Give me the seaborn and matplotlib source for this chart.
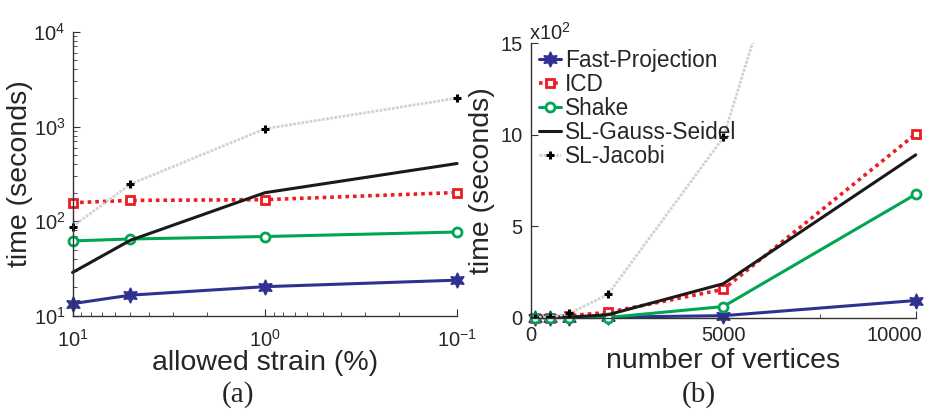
#!/usr/bin/env python3
import numpy as np
import pandas as pd
import matplotlib
matplotlib.use('Agg')
import matplotlib.pyplot as plt
from matplotlib.ticker import MultipleLocator, FixedLocator
import seaborn as sns

# (a) time vs allowed strain (%), log-log, x reversed
strain = [10, 5, 1, 0.1]
strain_fast = [13.5, 16.6, 20.4, 23.9]
strain_icd = [157, 166, 169, 201]
strain_shake = [62, 65, 69, 77]
strain_gs = [28.8, 63, 200, 407]
strain_jacobi = [88, 246, 946, 1995]

# (b) time (x10^2 s) vs number of vertices
vertices = [100, 500, 1000, 2000, 5000, 10000]
vert_fast = [0.0, 0.0, 0.0, 0.02, 0.1, 0.93]
vert_icd = [0.0, 0.0, 0.1, 0.28, 1.54, 10.04]
vert_shake = [0.0, 0.0, 0.0, 0.0, 0.6, 6.74]
vert_gs = [0.0, 0.0, 0.02, 0.15, 1.85, 8.9]
vert_jacobi = [0.0, 0.02, 0.22, 1.26, 9.85, 44.0]

labels = ['Fast-Projection', 'ICD', 'Shake', 'SL-Gauss-Seidel', 'SL-Jacobi']

sns.set_style('ticks')
plt.rcParams['font.family'] = ['Liberation Sans', 'DejaVu Sans']
plt.rcParams['mathtext.fontset'] = 'custom'
plt.rcParams['mathtext.rm'] = 'Liberation Sans'
plt.rcParams['xtick.direction'] = 'in'
plt.rcParams['ytick.direction'] = 'in'

blue, red, green = '#2e3192', '#ed1c24', '#00a651'
styles = [
    dict(color=blue, marker=(6, 1, 0), markersize=11, markeredgecolor=blue,
         markeredgewidth=1, linestyle='-', lw=2.2),
    dict(color=red, marker='s', markersize=5.5, markerfacecolor='white',
         markeredgecolor=red, markeredgewidth=2, linestyle=(0, (1, 1.1)), lw=2.6),
    dict(color=green, marker='o', markersize=6.5, markerfacecolor='white',
         markeredgecolor=green, markeredgewidth=2, linestyle='-', lw=2.2),
    dict(color='#1a1a1a', marker=None, linestyle='-', lw=2.2),
    dict(color='#d2d2d2', marker='+', markersize=6, markeredgecolor='black',
         markeredgewidth=2.2, linestyle=(0, (1, 0.5)), lw=2.0),
]

fig = plt.figure(figsize=(9.25, 4.18), dpi=100)
ax1 = fig.add_axes([0.0784, 0.244, 0.4157, 0.680])
ax2 = fig.add_axes([0.574, 0.2404, 0.416, 0.656])

series_a = [strain_fast, strain_icd, strain_shake, strain_gs, strain_jacobi]
series_b = [vert_fast, vert_icd, vert_shake, vert_gs, vert_jacobi]

for lab, ys, st in zip(labels, series_a, styles):
    sns.lineplot(x=strain, y=ys, ax=ax1, label=lab, sort=False, clip_on=False, **st)
for lab, ys, st in zip(labels, series_b, styles):
    sns.lineplot(x=vertices, y=ys, ax=ax2, label=lab, sort=False,
                 clip_on=(lab == 'SL-Jacobi'), **st)

# panel (a)
ax1.set_xscale('log')
ax1.set_yscale('log')
ax1.set_xlim(10, 0.1)
ax1.set_ylim(10, 1e4)
ax1.set_xlabel('allowed strain (%)', fontsize=20.5, labelpad=0)
ax1.set_ylabel('time (seconds)', fontsize=20.5, labelpad=0)
ax1.tick_params(axis='x', which='major', pad=9)
ax1.tick_params(axis='y', which='major', pad=5)
ax1.get_legend().remove()

# panel (b)
ax2.set_xlim(0, 10000)
ax2.set_ylim(0, 15)
ax2.xaxis.set_minor_locator(MultipleLocator(2500))
ax2.yaxis.set_major_locator(MultipleLocator(5))
ax2.set_xlabel('number of vertices', fontsize=20.5, labelpad=2)
ax2.set_ylabel('time (seconds)', fontsize=20.5, labelpad=4)
ax2.tick_params(axis='x', which='major', pad=6)
ax2.tick_params(axis='y', which='major', pad=6)
ax2.text(-0.005, 1.0, r'x10$^{2}$', transform=ax2.transAxes, fontsize=14.5,
         ha='left', va='bottom')
ax2.legend(loc='upper left', bbox_to_anchor=(-0.015, 1.03), frameon=False,
           fontsize=16.3, handlelength=1.0, handletextpad=0.15,
           labelspacing=0.05, borderaxespad=0.2)

for ax in (ax1, ax2):
    sns.despine(ax=ax)
    for s in ('left', 'bottom'):
        ax.spines[s].set_color('#333333')
        ax.spines[s].set_linewidth(1.0)
    ax.tick_params(which='both', labelsize=14.5, color='#333333')
    ax.tick_params(which='major', length=5)
    ax.tick_params(which='minor', length=3)

ax2.set_xticks([0, 5000, 10000])
ax2.set_xticklabels(['0', '5000', '10000'])
last = ax2.get_xticklabels()[-1]
last.set_horizontalalignment('right')
last.set_transform(last.get_transform() +
                   matplotlib.transforms.ScaledTranslation(0.06, 0, fig.dpi_scale_trans))

fig.text(0.257, 0.04, '(a)', fontsize=21, family='Liberation Serif', ha='center')
fig.text(0.755, 0.04, '(b)', fontsize=21, family='Liberation Serif', ha='center')

fig.savefig('out.png', dpi=100)
